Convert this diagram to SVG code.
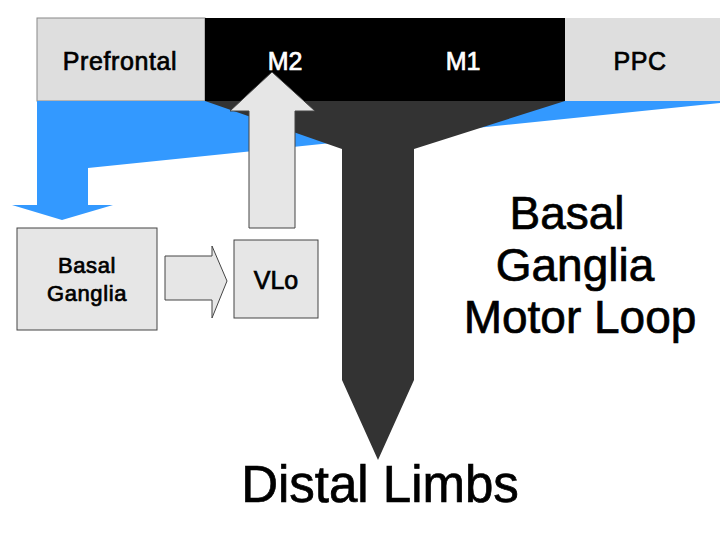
<svg xmlns="http://www.w3.org/2000/svg" width="720" height="540" viewBox="0 0 720 540">
<style>
text{font-family:"Liberation Sans",Arial,sans-serif;text-anchor:middle;stroke-width:0.7}
.k{fill:#000;stroke:#000}
.w{fill:#fff;stroke:#fff}
.lt{fill:#e6e6e6;stroke:#444;stroke-width:1}
</style>
<rect width="720" height="540" fill="#fff"/>
<g id="prefrontal"><rect x="37" y="18" width="168" height="83" fill="#dedede" stroke="#888" stroke-width="1"/><text class="k" x="120" y="70" font-size="25" letter-spacing="0.6">Prefrontal</text></g>
<g id="motor"><rect x="205" y="18" width="360" height="83" fill="#000"/></g>
<g id="ppc"><rect x="565" y="18" width="155" height="83" fill="#dedede"/><text class="k" x="640" y="70" font-size="25" letter-spacing="0.6">PPC</text></g>
<g id="connectors">
<path d="M37 101 L720 101 L720 103 L88 168 L88 205 L113 205 L62 220 L12 205 L37 205 Z" fill="#3399ff"/>
<path d="M205 101 L565 101 L414 149 L414 380 L378 460 L342 380 L342 149 Z" fill="#333"/>
<path class="lt" d="M249 228 L249 111 L230 111 L272 72 L315 111 L295 111 L295 228 Z"/>
<path class="lt" d="M165 256 L212 256 L212 246 L227 281 L212 318 L212 300 L165 300 Z"/>
</g>
<g id="m2"><text class="w" x="285" y="70" font-size="25">M2</text></g>
<g id="m1"><text class="w" x="463" y="70" font-size="25">M1</text></g>
<g id="bg"><rect class="lt" x="17" y="228" width="140" height="102"/><text class="k" x="87" y="273" font-size="22" letter-spacing="0.6">Basal</text><text class="k" x="87" y="301" font-size="22" letter-spacing="0.6">Ganglia</text></g>
<g id="vlo"><rect class="lt" x="234" y="240" width="84" height="78"/><text class="k" x="276" y="289" font-size="25">VLo</text></g>
<g id="loop"><text class="k" x="567" y="229" font-size="46">Basal</text><text class="k" x="575" y="281" font-size="46">Ganglia</text><text class="k" x="580" y="333" font-size="46">Motor Loop</text></g>
<g id="distal"><text class="k" x="380" y="502" font-size="51">Distal Limbs</text></g>
</svg>
